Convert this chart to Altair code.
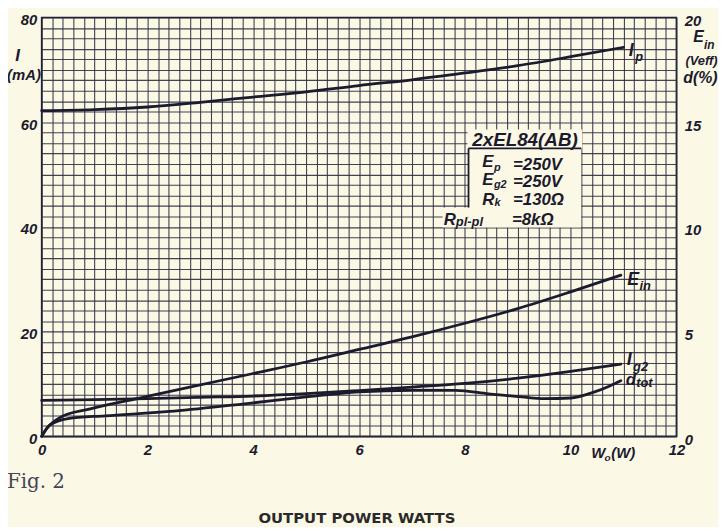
import altair as alt
import pandas as pd

# ---------------- data ----------------
ip_w = [0, 1, 2, 3, 4, 5, 6, 7, 8, 9, 10, 11]
ip_ma = [62.2, 62.4, 62.9, 63.8, 64.8, 65.8, 67.0, 68.1, 69.4, 70.8, 72.5, 74.3]

ig2_w = [0, 1, 2, 3, 4, 5, 6, 7, 8, 9, 10, 10.95]
ig2_ma = [6.85, 7.0, 7.2, 7.45, 7.7, 8.15, 8.75, 9.4, 10.1, 11.1, 12.4, 13.8]

ein_w = [0, 0.1, 0.35, 0.9, 1.8, 2.8, 4, 5, 6, 7, 8, 9, 10, 10.95]
ein_v = [0, 0.38, 0.9, 1.3, 1.8, 2.35, 3.0, 3.55, 4.15, 4.75, 5.4, 6.1, 6.9, 7.7]

dtot_w = [0, 0.15, 0.5, 1.2, 2.5, 4, 5, 6, 7, 7.83, 8.45, 9.08, 9.5, 10.0, 10.44, 10.75, 10.95]
dtot_pct = [0, 0.53, 0.85, 0.98, 1.2, 1.6, 1.88, 2.12, 2.2, 2.19, 2.03, 1.88, 1.8, 1.83, 2.11, 2.42, 2.66]

left_tick_labels = [0, 20, 40, 60, 80]
right_tick_labels = [0, 5, 10, 15, 20]
x_tick_labels = [0, 2, 4, 6, 8, 10, 12]

# curve labels (main letter + subscript)
curve_lbl_text = ["I", "p", "E", "in", "I", "g2", "d", "tot"]
curve_lbl_x = [11.10, 11.22, 11.07, 11.30, 11.06, 11.18, 11.04, 11.24]
curve_lbl_y = [73.6, 72.4, 29.9, 28.8, 14.6, 13.2, 10.8, 10.2]
curve_lbl_size = [18, 13, 18, 13, 18, 13, 17, 13]

# axis headers
hdr_text = ["I", "(mA)", "E", "in", "(Veff)", "d(%)", "W", "o", "(W)"]
hdr_x = [-0.50, -0.655, 12.32, 12.52, 12.17, 12.13, 10.39, 10.64, 10.77]
hdr_y = [72.6, 69.0, 76.2, 74.8, 71.6, 68.4, -3.2, -4.1, -3.2]
hdr_size = [17, 15, 16, 12, 13, 16, 15, 10, 15]

# data-sheet legend box
box_text = ["2xEL84(AB)", "E", "p", "=250V", "E", "g2", "=250V",
            "R", "k", "=130Ω", "R", "pl-pl", "=8kΩ"]
box_x = [8.14, 8.33, 8.55, 8.91, 8.33, 8.55, 8.91, 8.33, 8.56, 8.91, 7.60, 7.83, 8.89]
box_y = [56.6, 52.3, 51.3, 51.9, 48.9, 48.0, 48.5, 45.2, 44.5, 45.1, 41.4, 41.0, 41.4]
box_size = [19, 17, 11, 17, 17, 11, 17, 17, 11, 17, 17, 13, 17]

box_rect_x = [8.07, 7.58, 8.05]
box_rect_x2 = [10.20, 8.07, 10.22]
box_rect_y = [39.9, 39.9, 55.0]
box_rect_y2 = [55.0, 43.7, 58.6]

# ---------------- styling ----------------
INK = "#1b1b2d"
PAPER = "#fbf8e6"
GRID = "#2e2e40"
FONT = "Liberation Sans"

grid_x = [round(0.2 * i, 1) for i in range(61)]
grid_y = list(range(0, 81, 2))

x_enc = alt.X(
    "x:Q",
    scale=alt.Scale(domain=[0, 12], nice=False, zero=False),
    axis=alt.Axis(
        values=grid_x, grid=True, ticks=False, domain=False,
        labelExpr="datum.value % 2 == 0 ? format(datum.value, 'd') : ''",
        labelPadding=6, labelFlush=False, labelOverlap=False,
        labelFont=FONT, labelFontStyle="italic", labelFontWeight="bold",
        labelFontSize=15, labelColor=INK,
        gridColor=GRID, gridWidth=1.1, gridOpacity=0.9,
    ),
    title=None,
)

yl_enc = alt.Y(
    "y:Q",
    scale=alt.Scale(domain=[0, 80], nice=False),
    axis=alt.Axis(
        values=grid_y, grid=True, ticks=False, domain=False,
        labelExpr="datum.value % 20 == 0 ? datum.label : ''",
        labelPadding=5, labelFlush=False, labelOverlap=False, labelOffset=2,
        labelFont=FONT, labelFontStyle="italic", labelFontWeight="bold",
        labelFontSize=15, labelColor=INK,
        gridColor=GRID, gridWidth=1.1, gridOpacity=0.9,
    ),
    title=None,
)

yr_enc = alt.Y(
    "y:Q",
    scale=alt.Scale(domain=[0, 20], nice=False),
    axis=alt.Axis(
        orient="right", values=right_tick_labels, grid=False, ticks=False, domain=False,
        labelPadding=8, labelFlush=False, labelOverlap=False, labelOffset=3,
        labelFont=FONT, labelFontStyle="italic", labelFontWeight="bold",
        labelFontSize=15, labelColor=INK,
    ),
    title=None,
)


def line(ws, vs, yenc):
    df = pd.DataFrame({"x": ws, "y": vs})
    return alt.Chart(df).mark_line(
        color=INK, strokeWidth=2.8, interpolate="monotone", strokeCap="round"
    ).encode(x=x_enc, y=yenc)


def texts(t, xs, ys, sizes, color=INK, **kw):
    df = pd.DataFrame({"x": xs, "y": ys, "t": t, "s": sizes})
    return alt.Chart(df).mark_text(align="left", baseline="middle", color=color, **kw).encode(
        x=x_enc, y=yl_enc, text="t:N", size=alt.Size("s:Q", scale=None)
    )


rect_df = pd.DataFrame({"x": box_rect_x, "x2": box_rect_x2, "y": box_rect_y, "y2": box_rect_y2})
rects = alt.Chart(rect_df).mark_rect(color=PAPER, opacity=1).encode(
    x=x_enc, x2="x2:Q", y=yl_enc, y2="y2:Q"
)

underline_df = pd.DataFrame({"x": [8.07], "x2": [10.20], "y": [55.0]})
underline = alt.Chart(underline_df).mark_rule(color=INK, strokeWidth=1.8).encode(
    x=x_enc, x2="x2:Q", y=yl_enc
)
leftbar_df = pd.DataFrame({"x": [8.07], "y": [43.7], "y2": [55.0]})
leftbar = alt.Chart(leftbar_df).mark_rule(color=INK, strokeWidth=1.8).encode(
    x=x_enc, y=yl_enc, y2="y2:Q"
)

fig_lbl = texts(["Fig. 2"], [-0.655], [-8.7], [20], color="#45455a", font="DejaVu Serif")
foot_df = pd.DataFrame({"x": [5.96], "y": [-15.6], "t": ["OUTPUT POWER WATTS"]})
foot = alt.Chart(foot_df).mark_text(
    align="center", baseline="middle", font="DejaVu Sans", fontWeight="bold",
    fontSize=15, color="#2a2a2a"
).encode(x=x_enc, y=yl_enc, text="t:N")

ital = dict(font=FONT, fontStyle="italic", fontWeight="bold")

left = alt.layer(
    rects,
    underline,
    leftbar,
    line(ip_w, ip_ma, yl_enc),
    line(ig2_w, ig2_ma, yl_enc),
    texts(curve_lbl_text, curve_lbl_x, curve_lbl_y, curve_lbl_size, **ital),
    texts(hdr_text, hdr_x, hdr_y, hdr_size, **ital),
    texts(box_text, box_x, box_y, box_size, **ital),
    fig_lbl,
    foot,
)

right = alt.layer(
    line(ein_w, ein_v, yr_enc),
    line(dtot_w, dtot_pct, yr_enc),
)

chart = (
    alt.layer(left, right)
    .resolve_scale(y="independent")
    .properties(
        width=641,
        height=423,
        autosize=alt.AutoSizeParams(type="none"),
        padding={"left": 34, "top": 7, "right": 42, "bottom": 89},
        background=PAPER,
    )
    .configure_view(stroke=INK, strokeWidth=1.6)
)

chart.save("out.html", embed_options={"renderer": "svg", "actions": False})
